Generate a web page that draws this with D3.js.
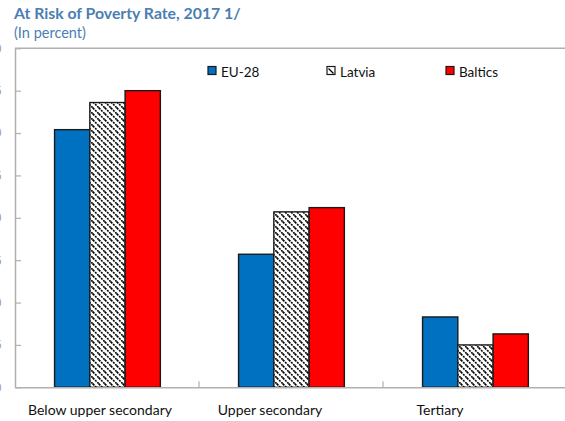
<!DOCTYPE html>
<html>
<head>
<meta charset="utf-8">
<script src="https://cdn.jsdelivr.net/npm/d3@7"></script>
<style>
  html, body { margin: 0; padding: 0; background: #fff; }
  svg { display: block; font-family: Lato, "Open Sans", sans-serif; }
</style>
</head>
<body>
<svg id="chart" width="565" height="421"></svg>
<script>
const categories = ["Below upper secondary", "Upper secondary", "Tertiary"];
const seriesNames = ["EU-28", "Latvia", "Baltics"];
const eu28 = [30.4, 15.7, 8.3];
const latvia = [33.6, 20.7, 5.0];
const baltics = [35.0, 21.2, 6.3];
const yTicks = [0, 5, 10, 15, 20, 25, 30, 35, 40];

const seriesValues = [eu28, latvia, baltics];
const data = categories.map((c, i) => ({
  category: c,
  values: seriesNames.map((s, j) => ({ series: s, value: seriesValues[j][i] }))
}));

const svg = d3.select("#chart");
const defs = svg.append("defs");
const pat = defs.append("pattern")
  .attr("id", "hatch").attr("patternUnits", "userSpaceOnUse")
  .attr("width", 6).attr("height", 6);
pat.append("rect").attr("width", 6).attr("height", 6).attr("fill", "#fff");
pat.append("path").attr("d", "M0,0 L6,6 M-1,5 L1,7 M5,-1 L7,1")
  .attr("stroke", "#000").attr("stroke-width", 1.6).attr("stroke-dasharray", "2,1");

const fills = { "EU-28": "#0070c0", "Latvia": "url(#hatch)", "Baltics": "#ff0000" };

const mLeft = 15, mRight = 567, mTop = 48.3, mBottom = 387.3;

const x0 = d3.scaleBand().domain(categories).range([mLeft, mRight]).paddingInner(0).paddingOuter(0);
const bw = x0.bandwidth();
const x1 = d3.scaleBand().domain(seriesNames).range([bw * 0.215, bw * 0.79]).padding(0);
const y = d3.scaleLinear().domain([0, 40]).range([mBottom, mTop]);
const xLabel = d3.scaleBand().domain(categories).range([mLeft, 525]);

// Title
svg.append("text").attr("x", 14).attr("y", 19)
  .attr("fill", "#4a7eb4").attr("font-weight", "bold").attr("font-size", 15.8)
  .text("At Risk of Poverty Rate, 2017 1/");
svg.append("text").attr("x", 14).attr("y", 38)
  .attr("fill", "#4a7eb4").attr("font-size", 14.5)
  .text("(In percent)");

// top border
svg.append("line").attr("x1", mLeft).attr("x2", 565).attr("y1", mTop).attr("y2", mTop)
  .attr("stroke", "#b0b0b0").attr("stroke-width", 1.5);

// y axis
const yAxis = d3.axisLeft(y).tickValues(yTicks).tickSizeInner(-6).tickSizeOuter(0).tickPadding(8);
const yg = svg.append("g").attr("transform", `translate(${mLeft},0)`).call(yAxis);
yg.select(".domain").attr("stroke", "#b0b0b0").attr("stroke-width", 1.5);
yg.selectAll(".tick line").attr("stroke", "#b0b0b0").attr("stroke-width", 1.2);
yg.selectAll(".tick text").attr("fill", "#999").attr("font-size", 12).attr("x", -13.5);

// Bars
const groups = svg.append("g").selectAll("g").data(data).join("g")
  .attr("transform", d => `translate(${x0(d.category)},0)`);
groups.selectAll("rect").data(d => d.values).join("rect")
  .attr("x", d => x1(d.series))
  .attr("y", d => y(d.value))
  .attr("width", x1.bandwidth())
  .attr("height", d => y(0) - y(d.value))
  .attr("fill", d => fills[d.series])
  .attr("stroke", "#1a1a1a").attr("stroke-width", 1.4);

// x axis
const xAxis = d3.axisBottom(x0).tickSize(0).tickFormat("");
const xg = svg.append("g").attr("transform", `translate(0,${mBottom})`).call(xAxis);
xg.select(".domain").attr("stroke", "#b0b0b0").attr("stroke-width", 1.5);
// boundary ticks
const bounds = categories.slice(1).map(c => x0(c));
svg.append("g").selectAll("line").data(bounds).join("line")
  .attr("x1", d => d).attr("x2", d => d).attr("y1", mBottom).attr("y2", mBottom - 6)
  .attr("stroke", "#b0b0b0").attr("stroke-width", 1.2);

// Category labels
svg.append("g").selectAll("text").data(categories).join("text")
  .attr("x", d => xLabel(d) + xLabel.bandwidth() / 2)
  .attr("y", 415)
  .attr("text-anchor", "middle")
  .attr("font-size", 14).attr("fill", "#111")
  .text(d => d);

// Legend
const legendX = [208, 327, 446];
const lg = svg.append("g").selectAll("g").data(seriesNames).join("g")
  .attr("transform", (d, i) => `translate(${legendX[i]},66.5)`);
lg.append("rect").attr("width", 8).attr("height", 8)
  .attr("fill", d => d === "Latvia" ? "#fff" : fills[d])
  .attr("stroke", "#1a1a1a").attr("stroke-width", 1.2);
lg.filter(d => d === "Latvia").append("line")
  .attr("x1", 1.5).attr("y1", 2).attr("x2", 6.5).attr("y2", 7)
  .attr("stroke", "#000").attr("stroke-width", 1.2);
lg.append("text").attr("x", 13).attr("y", 10).attr("font-size", 13.5).attr("fill", "#111")
  .text(d => d);
</script>
</body>
</html>
